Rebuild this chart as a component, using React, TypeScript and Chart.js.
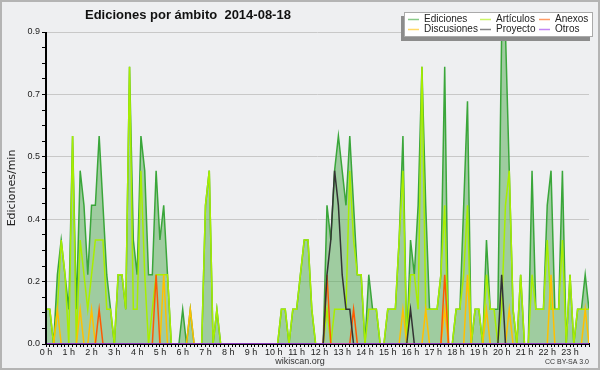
import React, { useEffect, useRef } from "react";
import { Chart, registerables } from "chart.js";

Chart.register(...registerables);

// 10-minute slots, 0:00 .. 23:50
const categories: string[] = Array.from({ length: 144 }, (_, i) =>
  `${Math.floor(i / 6)}:${String((i % 6) * 10).padStart(2, "0")}`
);

const ediciones = [
  0.1, 0.1, 0, 0.2, 0.3, 0.2, 0.1, 0.6, 0.1, 0.5, 0.4, 0.2,
  0.4, 0.4, 0.6, 0.4, 0.2, 0.1, 0, 0.2, 0.2, 0.1, 0.8, 0.3,
  0.2, 0.6, 0.5, 0.2, 0.2, 0.5, 0.3, 0.4, 0.2, 0, 0, 0,
  0.1, 0, 0.1, 0, 0, 0, 0.4, 0.5, 0, 0.1, 0, 0,
  0, 0, 0, 0, 0, 0, 0, 0, 0, 0, 0, 0,
  0, 0, 0.1, 0.1, 0, 0.1, 0.1, 0.2, 0.3, 0.3, 0.1, 0,
  0, 0, 0.4, 0.3, 0.5, 0.6, 0.5, 0.4, 0.6, 0.4, 0.2, 0.2,
  0, 0.2, 0.1, 0.1, 0, 0, 0.1, 0.1, 0.1, 0.3, 0.6, 0,
  0.3, 0.2, 0.4, 0.8, 0.4, 0.1, 0.1, 0.1, 0.2, 0.8, 0, 0,
  0.1, 0.1, 0.4, 0.7, 0, 0.1, 0.1, 0, 0.3, 0.1, 0.1, 0.1,
  0.9, 0.9, 0.5, 0.1, 0, 0.2, 0, 0, 0.5, 0.1, 0.1, 0.1,
  0.4, 0.5, 0.1, 0.1, 0.5, 0, 0.2, 0, 0.1, 0.1, 0.2, 0.1,
];

const articulos = [
  0.1, 0.1, 0, 0.1, 0.3, 0.2, 0, 0.6, 0, 0.3, 0.2, 0.1,
  0.2, 0.3, 0.3, 0.3, 0.1, 0.1, 0, 0.2, 0.2, 0.1, 0.8, 0.1,
  0.1, 0.5, 0.2, 0, 0.1, 0.2, 0.2, 0.2, 0.2, 0, 0, 0,
  0, 0, 0, 0, 0, 0, 0.4, 0.5, 0, 0.1, 0, 0,
  0, 0, 0, 0, 0, 0, 0, 0, 0, 0, 0, 0,
  0, 0, 0.1, 0.1, 0, 0.1, 0.1, 0.2, 0.3, 0.3, 0.1, 0,
  0, 0, 0.1, 0, 0.1, 0.1, 0.1, 0.1, 0.5, 0.3, 0.2, 0.2,
  0, 0.1, 0.1, 0.1, 0, 0, 0.1, 0.1, 0.1, 0.3, 0.5, 0,
  0.2, 0.2, 0.1, 0.8, 0.1, 0.1, 0.1, 0.1, 0.2, 0.4, 0, 0,
  0.1, 0.1, 0.2, 0.4, 0, 0.1, 0.1, 0, 0.2, 0.1, 0.1, 0,
  0.1, 0.4, 0.5, 0.1, 0, 0.2, 0, 0, 0.2, 0.1, 0.1, 0.1,
  0.3, 0.1, 0.1, 0.1, 0.3, 0, 0.2, 0, 0.1, 0.1, 0.1, 0.1,
];

const anexos = [
  0, 0, 0, 0, 0, 0, 0, 0, 0, 0, 0, 0,
  0, 0, 0.1, 0, 0, 0, 0, 0, 0, 0, 0, 0,
  0, 0, 0, 0, 0, 0.2, 0, 0, 0, 0, 0, 0,
  0, 0, 0, 0, 0, 0, 0, 0, 0, 0, 0, 0,
  0, 0, 0, 0, 0, 0, 0, 0, 0, 0, 0, 0,
  0, 0, 0, 0, 0, 0, 0, 0, 0, 0, 0, 0,
  0, 0, 0.2, 0, 0, 0, 0, 0, 0, 0.1, 0, 0,
  0, 0, 0, 0, 0, 0, 0, 0, 0, 0, 0, 0,
  0, 0, 0, 0, 0, 0, 0, 0, 0, 0.2, 0, 0,
  0, 0, 0, 0, 0, 0, 0, 0, 0, 0, 0, 0,
  0, 0, 0, 0, 0, 0, 0, 0, 0, 0, 0, 0,
  0, 0, 0, 0, 0, 0, 0, 0, 0, 0, 0, 0,
];

const discusiones = [
  0, 0, 0, 0.1, 0, 0, 0, 0, 0, 0.1, 0, 0,
  0.1, 0, 0, 0, 0, 0, 0, 0, 0, 0, 0, 0,
  0, 0, 0, 0, 0, 0, 0, 0.2, 0, 0, 0, 0,
  0, 0, 0.1, 0, 0, 0, 0, 0, 0, 0, 0, 0,
  0, 0, 0, 0, 0, 0, 0, 0, 0, 0, 0, 0,
  0, 0, 0, 0, 0, 0, 0, 0, 0, 0, 0, 0,
  0, 0, 0, 0, 0, 0, 0, 0, 0, 0, 0, 0,
  0, 0, 0, 0, 0, 0, 0, 0, 0, 0, 0.1, 0,
  0, 0, 0, 0, 0.1, 0, 0, 0, 0, 0.1, 0, 0,
  0, 0, 0, 0.2, 0, 0, 0, 0, 0.1, 0, 0, 0,
  0, 0, 0.1, 0, 0, 0, 0, 0, 0, 0, 0, 0,
  0, 0.2, 0, 0, 0, 0, 0, 0, 0, 0, 0.1, 0,
];

const proyecto = [
  0, 0, 0, 0, 0, 0, 0, 0, 0, 0, 0, 0,
  0, 0, 0, 0, 0, 0, 0, 0, 0, 0, 0, 0,
  0, 0, 0, 0, 0, 0, 0, 0, 0, 0, 0, 0,
  0, 0, 0, 0, 0, 0, 0, 0, 0, 0, 0, 0,
  0, 0, 0, 0, 0, 0, 0, 0, 0, 0, 0, 0,
  0, 0, 0, 0, 0, 0, 0, 0, 0, 0, 0, 0,
  0, 0, 0.2, 0.3, 0.5, 0.4, 0.2, 0.1, 0.1, 0, 0, 0,
  0, 0, 0, 0, 0, 0, 0, 0, 0, 0, 0, 0,
  0.1, 0, 0, 0, 0, 0, 0, 0, 0, 0, 0, 0,
  0, 0, 0, 0, 0, 0, 0, 0, 0, 0, 0, 0,
  0.2, 0, 0, 0, 0, 0, 0, 0, 0, 0, 0, 0,
  0, 0, 0, 0, 0, 0, 0, 0, 0, 0, 0, 0,
];

const otros = [
  0, 0, 0, 0, 0, 0, 0, 0, 0, 0, 0, 0,
  0, 0, 0, 0, 0, 0, 0, 0, 0, 0, 0, 0,
  0, 0, 0, 0, 0, 0, 0, 0, 0, 0, 0, 0,
  0, 0, 0, 0, 0, 0, 0, 0, 0, 0, 0, 0,
  0, 0, 0, 0, 0, 0, 0, 0, 0, 0, 0, 0,
  0, 0, 0, 0, 0, 0, 0, 0, 0, 0, 0, 0,
  0, 0, 0, 0, 0, 0, 0, 0, 0, 0, 0, 0,
  0, 0, 0, 0, 0, 0, 0, 0, 0, 0, 0, 0,
  0, 0, 0, 0, 0, 0, 0, 0, 0, 0, 0, 0,
  0, 0, 0, 0, 0, 0, 0, 0, 0, 0, 0, 0,
  0, 0, 0, 0, 0, 0, 0, 0, 0, 0, 0, 0,
  0, 0, 0, 0, 0, 0, 0, 0, 0, 0, 0, 0,
];

// y ticks: labelled every 4th (0.0, 0.2, 0.4, 0.5, 0.7, 0.9)
const yTickValues = [
  0, 0.045, 0.09, 0.135, 0.18, 0.225, 0.27, 0.315, 0.36, 0.405, 0.45,
  0.495, 0.54, 0.585, 0.63, 0.675, 0.72, 0.765, 0.81, 0.855, 0.9,
];

const titleText = "Ediciones por ámbito  2014-08-18";
const yTitle = "Ediciones/min";
const footerText = "wikiscan.org";
const licenseText = "CC BY-SA 3.0";

const decorPlugin = {
  id: "decor",
  beforeDraw(chart: any) {
    const { ctx, width, height } = chart;
    ctx.save();
    ctx.fillStyle = "#eeeff1";
    ctx.fillRect(0, 0, width, height);
    ctx.restore();
  },
  afterDatasetsDraw(chart: any) {
    const { ctx, chartArea } = chart;
    ctx.save();
    ctx.strokeStyle = "#000";
    ctx.lineWidth = 2;
    ctx.beginPath();
    ctx.moveTo(chartArea.left, chartArea.top);
    ctx.lineTo(chartArea.left, chartArea.bottom + 1);
    ctx.stroke();
    ctx.restore();
  },
  afterDraw(chart: any) {
    const { ctx, width, height } = chart;
    ctx.save();
    // outer frame
    ctx.strokeStyle = "#b4b4b4";
    ctx.lineWidth = 2;
    ctx.strokeRect(1, 1, width - 2, height - 2);

    // title
    ctx.fillStyle = "#111";
    ctx.font = "bold 13px 'Liberation Sans'";
    ctx.textAlign = "left";
    ctx.textBaseline = "alphabetic";
    ctx.fillText(titleText, 85, 18.5);

    // y axis title
    ctx.save();
    ctx.translate(12, 188);
    ctx.rotate(-Math.PI / 2);
    ctx.font = "11px 'DejaVu Sans'";
    ctx.textAlign = "center";
    ctx.textBaseline = "middle";
    ctx.fillStyle = "#222";
    ctx.fillText(yTitle, 0, 0);
    ctx.restore();

    // legend box with shadow
    ctx.fillStyle = "#8c8c8c";
    ctx.fillRect(401, 16, 189, 25);
    ctx.fillStyle = "#ffffff";
    ctx.fillRect(404, 12, 189, 25);
    ctx.strokeStyle = "#aaaaaa";
    ctx.lineWidth = 1;
    ctx.strokeRect(404.5, 12.5, 188, 24);

    const cols = [408, 480, 539];
    const rows = [19.5, 29.5];
    ctx.font = "10px 'Liberation Sans'";
    ctx.textBaseline = "middle";
    ctx.textAlign = "left";
    chart.data.datasets.forEach((ds: any, i: number) => {
      const cx = cols[i % 3];
      const cy = rows[Math.floor(i / 3)];
      ctx.save();
      ctx.globalAlpha = 0.6;
      ctx.strokeStyle = ds.borderColor;
      ctx.lineWidth = 1.5;
      ctx.beginPath();
      ctx.moveTo(cx, cy);
      ctx.lineTo(cx + 11, cy);
      ctx.stroke();
      ctx.restore();
      ctx.fillStyle = "#222";
      ctx.fillText(ds.label, cx + 16, cy);
    });

    // footer
    ctx.fillStyle = "#333";
    ctx.font = "9px 'Liberation Sans'";
    ctx.textAlign = "center";
    ctx.textBaseline = "middle";
    ctx.fillText(footerText, 300, 361.5);
    ctx.font = "7px 'Liberation Sans'";
    ctx.textAlign = "right";
    ctx.fillText(licenseText, 589, 362);
    ctx.restore();
  },
};

export default function App() {
  const canvasRef = useRef<HTMLCanvasElement | null>(null);

  useEffect(() => {
    document.body.style.margin = "0";
    const canvas = canvasRef.current;
    if (!canvas) return;
    const lineCommon = {
      pointRadius: 0,
      pointHoverRadius: 0,
      tension: 0,
      borderWidth: 1.5,
      fill: false,
      clip: 0,
    };
    const chart = new Chart(canvas, {
      type: "line",
      data: {
        labels: categories,
        datasets: [
          {
            ...lineCommon,
            label: "Ediciones",
            data: ediciones,
            borderColor: "#3aa63a",
            backgroundColor: "rgba(80,170,80,0.5)",
            fill: "origin",
            order: 6,
          },
          { ...lineCommon, label: "Artículos", data: articulos, borderColor: "#a8ee00", order: 5 },
          { ...lineCommon, label: "Anexos", data: anexos, borderColor: "#ff5a00", order: 3 },
          { ...lineCommon, label: "Discusiones", data: discusiones, borderColor: "#ffc000", order: 4 },
          { ...lineCommon, label: "Proyecto", data: proyecto, borderColor: "#333333", order: 2 },
          { ...lineCommon, label: "Otros", data: otros, borderColor: "#9933ee", order: 1 },
        ],
      },
      options: {
        responsive: false,
        animation: false,
        devicePixelRatio: 1,
        layout: { padding: { left: 8, right: 11, top: 32, bottom: 10 } },
        plugins: {
          legend: { display: false },
          title: { display: false },
          tooltip: { enabled: false },
        },
        scales: {
          x: {
            type: "category",
            offset: false,
            z: 1,
            grid: {
              display: true,
              drawOnChartArea: false,
              drawTicks: true,
              tickLength: 3,
              tickColor: "#000",
            },
            border: { display: true, color: "#000", width: 2 },
            ticks: {
              autoSkip: false,
              maxRotation: 0,
              minRotation: 0,
              padding: 0,
              color: "#222",
              font: { family: "'Liberation Sans'", size: 9 },
              callback: (_v: any, i: number) => (i % 6 === 0 ? `${i / 6} h` : ""),
            },
            afterFit: (s: any) => {
              s.height = 16;
            },
          },
          y: {
            min: 0,
            max: 0.9,
            afterBuildTicks: (s: any) => {
              s.ticks = yTickValues.map((v) => ({ value: v }));
            },
            grid: {
              color: (c: any) => (c.index % 4 === 0 ? "#c8c8c8" : "rgba(0,0,0,0)"),
              tickColor: "#000",
              tickLength: 4,
              lineWidth: 1,
            },
            border: { display: false },
            ticks: {
              padding: 2,
              color: "#222",
              font: { family: "'Liberation Sans'", size: 9 },
              callback: (v: any, i: number) => (i % 4 === 0 ? Number(v).toFixed(1) : ""),
            },
            afterFit: (s: any) => {
              s.width = 38;
            },
          },
        },
      },
      plugins: [decorPlugin],
    } as any);
    return () => chart.destroy();
  }, []);

  return (
    <div style={{ width: 600, height: 370 }}>
      <canvas ref={canvasRef} width={600} height={370} style={{ display: "block" }} />
    </div>
  );
}
